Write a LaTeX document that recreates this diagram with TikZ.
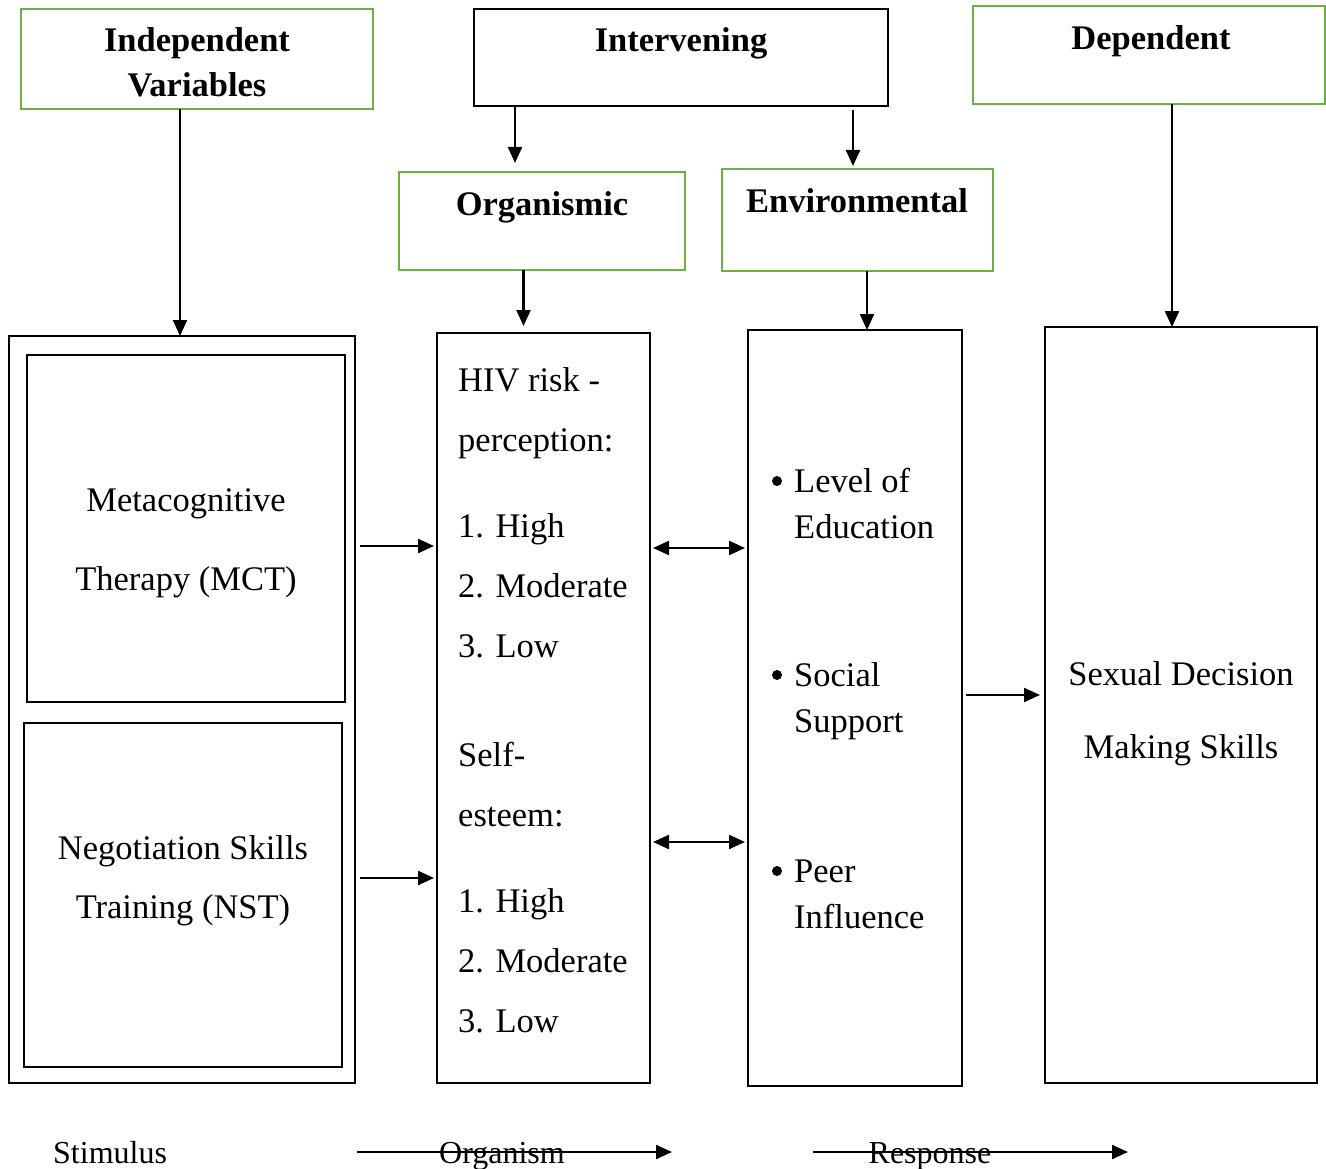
\documentclass[tikz,border=0pt]{standalone}
\usepackage{fontspec}
\setmainfont{Liberation Serif}
\usetikzlibrary{arrows.meta}
\definecolor{grn}{HTML}{70AD47}
\begin{document}
\begin{tikzpicture}[x=1pt,y=-1pt,
 gbox/.style={draw=grn,line width=2.5pt,inner sep=0pt,outer sep=0pt},
 bbox/.style={draw=black,line width=2pt,inner sep=0pt,outer sep=0pt},
 tip/.style={Triangle[length=16pt,width=14pt]},
 arr/.style={line width=2.3pt,-{Triangle[length=16pt,width=14pt]}},
 darr/.style={line width=2.3pt,{Triangle[length=16pt,width=14pt]}-{Triangle[length=16pt,width=14pt]}},
 txt/.style={font=\fontsize{34.5}{40}\selectfont,inner sep=0pt},
 hd/.style={font=\fontsize{34.5}{40}\selectfont\bfseries,inner sep=0pt,anchor=base},
 sm/.style={font=\fontsize{32}{38}\selectfont,inner sep=0pt},
 bul/.style={circle,fill=black,inner sep=0pt,minimum size=10pt}]
\useasboundingbox (0,0) rectangle (1326,1169);
% boxes
\node[gbox,minimum width=352pt,minimum height=100pt] (indep) at (197,59) {};
\node[bbox,minimum width=414pt,minimum height=97pt] (interv) at (681,57.5) {};
\node[gbox,minimum width=352pt,minimum height=98pt] (dep) at (1149,55) {};
\node[gbox,minimum width=286pt,minimum height=98pt] (org) at (542,221) {};
\node[gbox,minimum width=271pt,minimum height=102pt] (env) at (857.5,220) {};
\node[bbox,minimum width=346pt,minimum height=747pt] (outer) at (182,709.5) {};
\node[bbox,minimum width=318pt,minimum height=347pt] (mct) at (186,528.5) {};
\node[bbox,minimum width=318pt,minimum height=344pt] (nst) at (183,895) {};
\node[bbox,minimum width=213pt,minimum height=750pt] (orgbox) at (543.5,708) {};
\node[bbox,minimum width=214pt,minimum height=756pt] (envbox) at (855,708) {};
\node[bbox,minimum width=272pt,minimum height=756pt] (depbox) at (1181,705) {};
% headers
\node[hd] (t1) at (197,52) {Independent};
\node[hd] (t2) at (197,97) {Variables};
\node[hd] (t3) at (681,52) {Intervening};
\node[hd] (t4) at (1151,50) {Dependent};
\node[hd] (t5) at (542,216) {Organismic};
\node[hd] (t6) at (857,213) {Environmental};
% left texts
\node[txt,anchor=base] (m1) at (186,511) {Metacognitive};
\node[txt,anchor=base] (m2) at (186,590) {Therapy (MCT)};
\node[txt,anchor=base] (n1) at (183,859) {Negotiation Skills};
\node[txt,anchor=base] (n2) at (183,918) {Training (NST)};
% organism texts
\node[txt,anchor=base west] (o1) at (458,391) {HIV risk -};
\node[txt,anchor=base west] (o2) at (458,451) {perception:};
\node[txt,anchor=base west] (o3) at (458,537) {1. High};
\node[txt,anchor=base west] (o4) at (458,597) {2. Moderate};
\node[txt,anchor=base west] (o5) at (458,657) {3. Low};
\node[txt,anchor=base west] (o6) at (458,766) {Self-};
\node[txt,anchor=base west] (o7) at (458,826) {esteem:};
\node[txt,anchor=base west] (o8) at (458,912) {1. High};
\node[txt,anchor=base west] (o9) at (458,972) {2. Moderate};
\node[txt,anchor=base west] (o10) at (458,1032) {3. Low};
% environment texts
\node[bul] (b1) at (777,481) {};
\node[txt,anchor=base west] (e1) at (794,492) {Level of};
\node[txt,anchor=base west] (e2) at (794,538) {Education};
\node[bul] (b2) at (777,675) {};
\node[txt,anchor=base west] (e3) at (794,686) {Social};
\node[txt,anchor=base west] (e4) at (794,732) {Support};
\node[bul] (b3) at (777,871) {};
\node[txt,anchor=base west] (e5) at (794,882) {Peer};
\node[txt,anchor=base west] (e6) at (794,928) {Influence};
% dependent texts
\node[txt,anchor=base] (d1) at (1181,685) {Sexual Decision};
\node[txt,anchor=base] (d2) at (1181,758) {Making Skills};
% bottom
\node[sm,anchor=base west] (s1) at (53,1163) {Stimulus};
\node[sm,anchor=base] (s2) at (502,1163) {Organism};
\node[sm,anchor=base] (s3) at (930,1163) {Response};
\coordinate (a1) at (357,1152);
\coordinate (a2) at (672,1152);
\coordinate (a3) at (813,1152);
\coordinate (a4) at (1128,1152);
\draw[arr] (a1) -- (a2);
\draw[arr] (a3) -- (a4);
% vertical arrows
\draw[arr] (indep.south -| 180,0) -- (outer.north -| 180,0);
\draw[arr] (interv.south -| 515,0) -- ([yshift=9pt]org.north -| 515,0);
\draw[arr] ([yshift=-4pt]interv.south -| 853,0) -- ([yshift=3pt]env.north -| 853,0);
\draw[arr] (org.south -| 523.5,0) -- ([yshift=7pt]orgbox.north -| 523.5,0);
\draw[arr] (env.south -| 867,0) -- (envbox.north -| 867,0);
\draw[arr] (dep.south -| 1172,0) -- (depbox.north -| 1172,0);
% horizontal arrows
\draw[arr,shorten <=5pt,shorten >=3pt] (outer.east |- 0,546) -- (orgbox.west |- 0,546);
\draw[arr,shorten <=5pt,shorten >=3pt] (outer.east |- 0,878) -- (orgbox.west |- 0,878);
\draw[darr,shorten <=3pt,shorten >=3pt] (orgbox.east |- 0,548) -- (envbox.west |- 0,548);
\draw[darr,shorten <=3pt,shorten >=3pt] (orgbox.east |- 0,842) -- (envbox.west |- 0,842);
\draw[arr,shorten <=4pt,shorten >=5pt] (envbox.east |- 0,695) -- (depbox.west |- 0,695);
\end{tikzpicture}
\end{document}
